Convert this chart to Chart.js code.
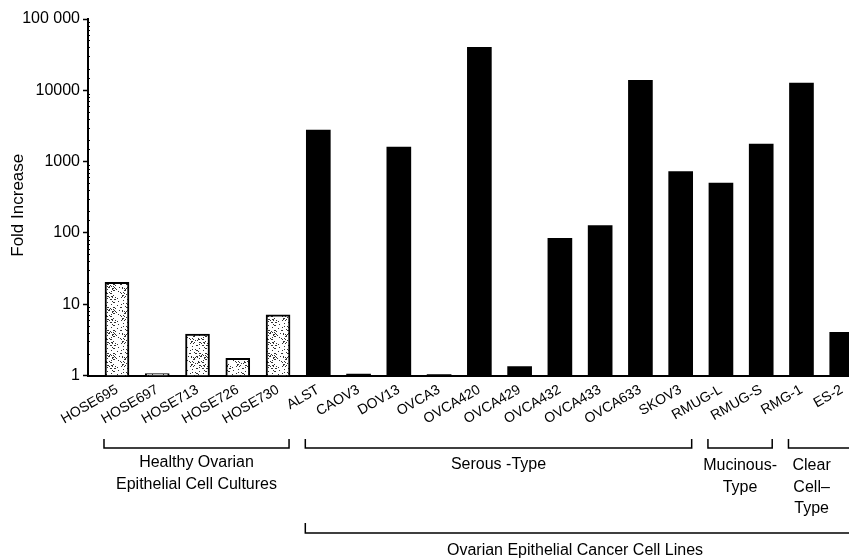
<!DOCTYPE html>
<html><head><meta charset="utf-8">
<script src="https://cdn.jsdelivr.net/npm/chart.js@4.4.0/dist/chart.umd.min.js"></script>
<style>
html,body{margin:0;padding:0;background:#fff;overflow:hidden;width:849px;height:560px;}
#wrap{width:882px;height:560px;}
</style>
</head><body><div id="wrap"><canvas id="c" width="882" height="560"></canvas></div>
<script>
const categories = ['HOSE695','HOSE697','HOSE713','HOSE726','HOSE730','ALST','CAOV3','DOV13','OVCA3','OVCA420','OVCA429','OVCA432','OVCA433','OVCA633','SKOV3','RMUG-L','RMUG-S','RMG-1','ES-2'];
const foldIncrease = [20.3,1.06,3.8,1.74,7.1,2770,1.05,1600,1.03,39900,1.33,84,127,13750,726,499,1760,12640,4.04];
const healthy = [true,true,true,true,true,false,false,false,false,false,false,false,false,false,false,false,false,false,false];
const yTickValues = [1,10,100,1000,10000,100000];
const yTickLabels = ['1','10','100','1000','10000','100 000'];
const yTitle = 'Fold Increase';
const groupLabels = [['Healthy Ovarian','Epithelial Cell Cultures'],['Serous -Type'],['Mucinous-','Type'],['Clear','Cell\u2013','Type']];
const groupFirst = [0,5,15,17];
const groupLast = [4,14,16,18];
const superLabel = 'Ovarian Epithelial Cancer Cell Lines';
const superFirst = 5;
const superLast = 18;

const FONT = "'Liberation Sans', Arial, Helvetica, sans-serif";

function stipple(){
  const n = 23;
  const c = document.createElement('canvas'); c.width = n; c.height = n;
  const g = c.getContext('2d');
  g.fillStyle = '#fff'; g.fillRect(0,0,n,n);
  g.fillStyle = '#333';
  for (let i=0;i<n;i++) for (let j=0;j<n;j++) {
    const h = (i*i*7 + j*j*11 + i*j*5 + i*3 + j) % 29;
    if (h < 5) g.fillRect(i,j,1,1);
  }
  return g.createPattern(c,'repeat');
}
const pat = stipple();

const bracketPlugin = {
  id: 'brackets',
  afterDraw(chart) {
    const x = chart.scales.x, y = chart.scales.y, ctx = chart.ctx;
    ctx.save();
    ctx.strokeStyle = '#000'; ctx.lineWidth = 1.5;
    ctx.fillStyle = '#000';
    ctx.font = '16px ' + FONT;
    ctx.textAlign = 'center'; ctx.textBaseline = 'middle';
    const shift = [0,0,0,-9];
    const top = [463,465,466,466];
    for (let g=0; g<groupFirst.length; g++) {
      const x0 = x.getPixelForValue(groupFirst[g]) - 13;
      const x1 = x.getPixelForValue(groupLast[g]) + 11;
      ctx.beginPath();
      ctx.moveTo(x0, 439); ctx.lineTo(x0, 448); ctx.lineTo(x1, 448); ctx.lineTo(x1, 439);
      ctx.stroke();
      const cx = (x0 + x1)/2 + shift[g];
      groupLabels[g].forEach((t,k) => ctx.fillText(t, cx, top[g] + k*21.5));
    }
    const s0 = x.getPixelForValue(superFirst) - 13;
    const s1 = x.getPixelForValue(superLast) + 11;
    ctx.beginPath();
    ctx.moveTo(s0, 523); ctx.lineTo(s0, 533); ctx.lineTo(chart.width, 533);
    ctx.stroke();
    ctx.fillText(superLabel, (s0 + s1)/2 - 4, 551);
    // y axis title
    ctx.save();
    ctx.translate(18, (chart.chartArea.top + chart.chartArea.bottom)/2 + 8);
    ctx.rotate(-Math.PI/2);
    ctx.font = '17px ' + FONT;
    ctx.fillText(yTitle, 0, 0);
    ctx.restore();
    // minor ticks on the y axis
    ctx.lineWidth = 1;
    y.ticks.forEach(t => {
      if (!yTickValues.includes(t.value)) {
        const py = Math.round(y.getPixelForValue(t.value)) + 0.5;
        ctx.beginPath(); ctx.moveTo(y.right - 1, py); ctx.lineTo(y.right + 2, py); ctx.stroke();
      }
    });
    ctx.restore();
  }
};

new Chart(document.getElementById('c'), {
  type: 'bar',
  data: {
    datasets: [{
      data: categories.map((c,i) => ({x: i, y: foldIncrease[i]})),
      backgroundColor: healthy.map(h => h ? pat : '#000'),
      borderColor: '#000',
      borderWidth: healthy.map(h => h ? 2 : 0),
      barThickness: 24
    }]
  },
  options: {
    responsive: false,
    animation: false,
    layout: { padding: { top: 19, left: 0, right: 0, bottom: 0 } },
    plugins: { legend: { display: false }, tooltip: { enabled: false } },
    scales: {
      x: {
        type: 'linear',
        offset: false,
        min: -0.72, max: 19,
        afterBuildTicks: s => { s.ticks = categories.map((c,i) => ({value: i})); },
        afterFit: s => { s.height = 184.5; s.paddingLeft = 0; s.paddingRight = 0; },
        grid: { display: true, offset: false, drawOnChartArea: false, drawTicks: false },
        border: { display: true, color: '#000', width: 2 },
        ticks: {
          autoSkip: false, minRotation: 30, maxRotation: 30, padding: 6,
          color: '#000', font: { family: FONT, size: 14 },
          callback: v => categories[v] !== undefined ? categories[v] : ''
        }
      },
      y: {
        type: 'logarithmic',
        min: 1, max: 100000,
        afterFit: s => { s.width = 88; s.paddingTop = 0; s.paddingBottom = 0; },
        grid: {
          display: true, drawOnChartArea: false, drawTicks: true, tickLength: 5, tickWidth: 1.5,
          tickColor: c => (c.tick && yTickValues.includes(c.tick.value)) ? '#000' : 'rgba(0,0,0,0)'
        },
        border: { display: true, color: '#000', width: 2 },
        ticks: {
          autoSkip: false, padding: 3, color: '#000', font: { family: FONT, size: 16 },
          callback: v => { const k = yTickValues.indexOf(v); return k >= 0 ? yTickLabels[k] : ''; }
        },
        title: { display: false }
      }
    }
  },
  plugins: [bracketPlugin]
});
</script>
</body></html>
